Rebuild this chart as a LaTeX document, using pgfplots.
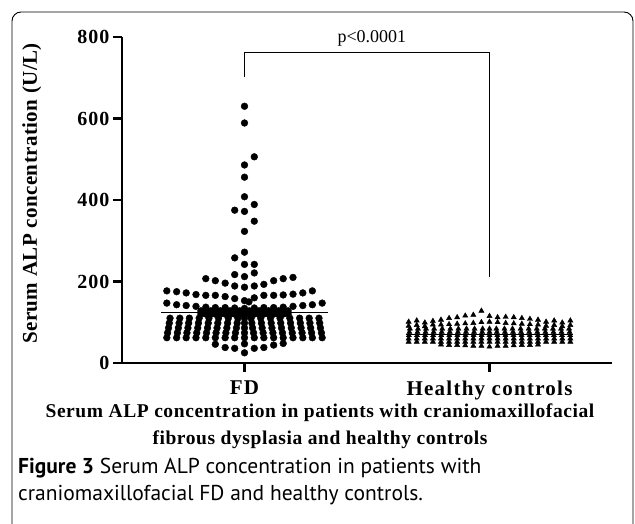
\documentclass[border=0pt]{standalone}
\usepackage{fontspec}
\setmainfont{Liberation Serif}
\newfontfamily\tickfont[LetterSpace=5]{Liberation Serif}
\newfontfamily\xlabfont[LetterSpace=6]{Liberation Serif}
\newfontfamily\ylabfont[LetterSpace=2]{Liberation Serif}
\newfontfamily\capAfont[LetterSpace=3]{Liberation Serif}
\newfontfamily\capfont{PT Sans}
\usepackage{pgfplots}
\pgfplotsset{compat=1.18}

\begin{document}
\begin{tikzpicture}[x=1pt,y=1pt]
\useasboundingbox (0,0) rectangle (635,523);
% journal figure frame
\draw[line width=0.9pt, rounded corners=9pt] (12,-20) -- (12,511) -- (633,511) -- (633,-20);

\begin{axis}[
  at={(122pt,160pt)}, anchor=south west,
  scale only axis, width=490pt, height=326pt,
  xmin=0.5, xmax=2.5, ymin=0, ymax=800,
  clip=false,
  axis lines*=left,
  axis line style={line width=2.5pt},
  tick style={line width=2.5pt, black},
  tick align=outside, major tick length=9pt,
  xtick={1,2}, xticklabels={FD, Healthy controls},
  ytick={0,200,400,600,800},
  /pgf/number format/assume math mode=true,
  yticklabel style={font=\tickfont\bfseries\fontsize{20}{20}\selectfont},
  xticklabel style={yshift=-5pt, font=\xlabfont\bfseries\fontsize{21}{21}\selectfont},
  ylabel={Serum ALP concentration (U/L)},
  ylabel style={at={(axis description cs:-0.184,0.52)}, anchor=center,
    font=\ylabfont\bfseries\fontsize{21}{21}\selectfont},
]

%% FD group
\addplot[only marks, mark=*, mark size=3.4pt, black] coordinates {
  (1.000,630)(1.000,589)(1.040,506)(1.000,486)(1.000,456)(1.000,408)
  (1.040,389)(0.960,375)(1.000,372)(1.040,348)(1.000,323)(1.000,272)
  (0.960,258)(1.000,242)(1.040,242)(0.960,217)(1.000,212)(1.040,221)
  (0.842,207)(0.881,202)(0.921,196)(0.960,189)(1.000,186)(1.040,189)
  (1.079,193)(1.119,202)(1.158,207)(1.198,210)
  (0.683,177)(0.723,175)(0.762,172)(0.802,168)(0.842,166)(0.881,166)
  (0.921,163)(0.960,158)(1.000,153)(1.018,150)(1.040,160)(1.079,166)
  (1.119,166)(1.158,167)(1.198,169)(1.238,172)(1.277,177)
  (0.683,147)(0.723,143)(0.762,141)(0.802,139)(0.842,137)(0.881,136)
  (0.921,136)(0.960,135)(1.000,134)(1.040,135)(1.079,136)(1.119,136)
  (1.158,137)(1.198,139)(1.238,141)(1.277,143)(1.317,147)
  (0.822,128)(0.842,128)(0.862,128)(0.881,128)(0.901,128)(0.921,128)
  (0.941,128)(0.960,128)(0.980,128)(1.000,128)(1.020,128)(1.040,128)
  (1.059,128)(1.079,128)(1.099,128)(1.119,128)(1.139,128)(1.158,128)(1.178,128)
  (0.822,120)(0.842,120)(0.862,120)(0.881,120)(0.901,120)(0.921,120)
  (0.941,120)(0.960,120)(0.980,120)(1.000,120)(1.020,120)(1.040,120)
  (1.059,120)(1.079,120)(1.099,120)(1.119,120)(1.139,120)(1.158,120)(1.178,120)
  (0.696,110)(0.693,98)(0.690,86)(0.686,74)(0.683,62)
  (0.736,110)(0.733,98)(0.730,86)(0.726,74)(0.723,62)
  (0.775,110)(0.772,98)(0.769,86)(0.765,74)(0.762,62)
  (0.815,110)(0.812,98)(0.809,86)(0.805,74)(0.802,62)
  (0.855,110)(0.852,98)(0.849,86)(0.845,74)(0.842,62)
  (0.894,110)(0.891,98)(0.888,86)(0.884,74)(0.881,62)
  (0.934,110)(0.931,98)(0.928,86)(0.924,74)(0.921,62)
  (0.973,110)(0.970,98)(0.967,86)(0.963,74)(0.960,62)
  (1.000,110)(1.000,98)(1.000,86)(1.000,74)(1.000,62)
  (1.027,110)(1.030,98)(1.033,86)(1.037,74)(1.040,62)
  (1.066,110)(1.069,98)(1.072,86)(1.076,74)(1.079,62)
  (1.106,110)(1.109,98)(1.112,86)(1.116,74)(1.119,62)
  (1.145,110)(1.148,98)(1.151,86)(1.155,74)(1.158,62)
  (1.185,110)(1.188,98)(1.191,86)(1.195,74)(1.198,62)
  (1.225,110)(1.228,98)(1.231,86)(1.235,74)(1.238,62)
  (1.264,110)(1.267,98)(1.270,86)(1.274,74)(1.277,62)
  (1.304,110)(1.307,98)(1.310,86)(1.314,74)(1.317,62)
  (0.881,46)(0.921,38)(0.960,36)(1.000,47)(1.040,36)(1.079,38)
  (1.119,44)(1.158,48)(1.000,25)
};

%% Healthy controls group
\addplot[only marks, mark=triangle*, mark size=3pt, black] coordinates {
  (1.670,101)(1.703,104)(1.736,99)(1.769,103)(1.802,106)(1.835,110)
  (1.868,112)(1.901,116)(1.934,118)(1.967,128)(2.000,115)(2.033,112)
  (2.066,113)(2.099,112)(2.132,110)(2.165,108)(2.198,106)(2.231,101)
  (2.264,104)(2.297,99)(2.330,104)
  (1.670,91)(1.703,93)(1.736,90)(1.769,94)(1.802,94)(1.835,95)(1.868,96)
  (1.901,97)(1.934,98)(1.967,100)(2.000,101)(2.033,100)(2.066,98)(2.099,97)
  (2.132,96)(2.165,95)(2.198,94)(2.231,91)(2.264,93)(2.297,90)(2.330,93)
  (1.675,84)(1.708,84)(1.741,84)(1.774,84)(1.807,84)(1.840,84)(1.873,84)
  (1.906,84)(1.939,84)(1.972,84)(2.000,84)(2.028,84)(2.061,84)(2.094,84)
  (2.127,84)(2.160,84)(2.193,84)(2.226,84)(2.259,84)(2.292,84)(2.325,84)
  (1.673,76)(1.706,76)(1.739,76)(1.772,76)(1.805,76)(1.838,76)(1.871,76)
  (1.904,76)(1.937,76)(1.970,76)(2.000,76)(2.030,76)(2.063,76)(2.096,76)
  (2.129,76)(2.162,76)(2.195,76)(2.228,76)(2.261,76)(2.294,76)(2.327,76)
  (1.671,68)(1.704,68)(1.737,68)(1.770,68)(1.803,68)(1.836,68)(1.869,68)
  (1.902,68)(1.935,68)(1.968,68)(2.000,68)(2.032,68)(2.065,68)(2.098,68)
  (2.131,68)(2.164,68)(2.197,68)(2.230,68)(2.263,68)(2.296,68)(2.329,68)
  (1.670,60)(1.703,60)(1.736,60)(1.769,60)(1.802,60)(1.835,60)(1.868,60)
  (1.901,60)(1.934,60)(1.967,60)(2.000,60)(2.033,60)(2.066,60)(2.099,60)
  (2.132,60)(2.165,60)(2.198,60)(2.231,60)(2.264,60)(2.297,60)(2.330,60)
  (1.670,52)(1.703,52)(1.736,52)(1.769,52)(1.802,52)(1.835,52)(1.868,52)
  (1.901,52)(1.934,52)(1.967,52)(2.000,52)(2.033,52)(2.066,52)(2.099,52)
  (2.132,52)(2.165,52)(2.198,52)(2.231,52)(2.264,52)(2.297,52)(2.330,52)
  (1.802,45)(1.835,44)(1.868,44)(1.901,43)(1.934,42)(1.967,42)(2.000,40)
  (2.033,42)(2.066,42)(2.099,43)(2.132,44)(2.165,44)(2.198,45)
};

%% median lines
\addplot[black, line width=1.5pt] coordinates {(0.66,124)(1.34,124)};
\addplot[black, line width=1.5pt] coordinates {(1.66,70)(2.34,70)};

%% significance bracket
\addplot[black, line width=1.1pt] coordinates {(1,702)(1,763)(2,763)(2,211)};
\node[above, font=\fontsize{18}{18}\selectfont] at (axis cs:1.52,768) {p<0.0001};
\end{axis}

\node[font=\capAfont\bfseries\fontsize{19.5}{19.5}\selectfont] at (320,110)
  {Serum ALP concentration in patients with craniomaxillofacial};
\node[font=\capAfont\bfseries\fontsize{19.5}{19.5}\selectfont] at (320,83)
  {fibrous dysplasia and healthy controls};
\node[anchor=west, font=\capfont\fontsize{21.5}{21.5}\selectfont, inner sep=0pt] at (18,55)
  {\textbf{Figure 3} Serum ALP concentration in patients with};
\node[anchor=west, font=\capfont\fontsize{21.5}{21.5}\selectfont, inner sep=0pt] at (18,28)
  {craniomaxillofacial FD and healthy controls.};
\end{tikzpicture}
\end{document}
